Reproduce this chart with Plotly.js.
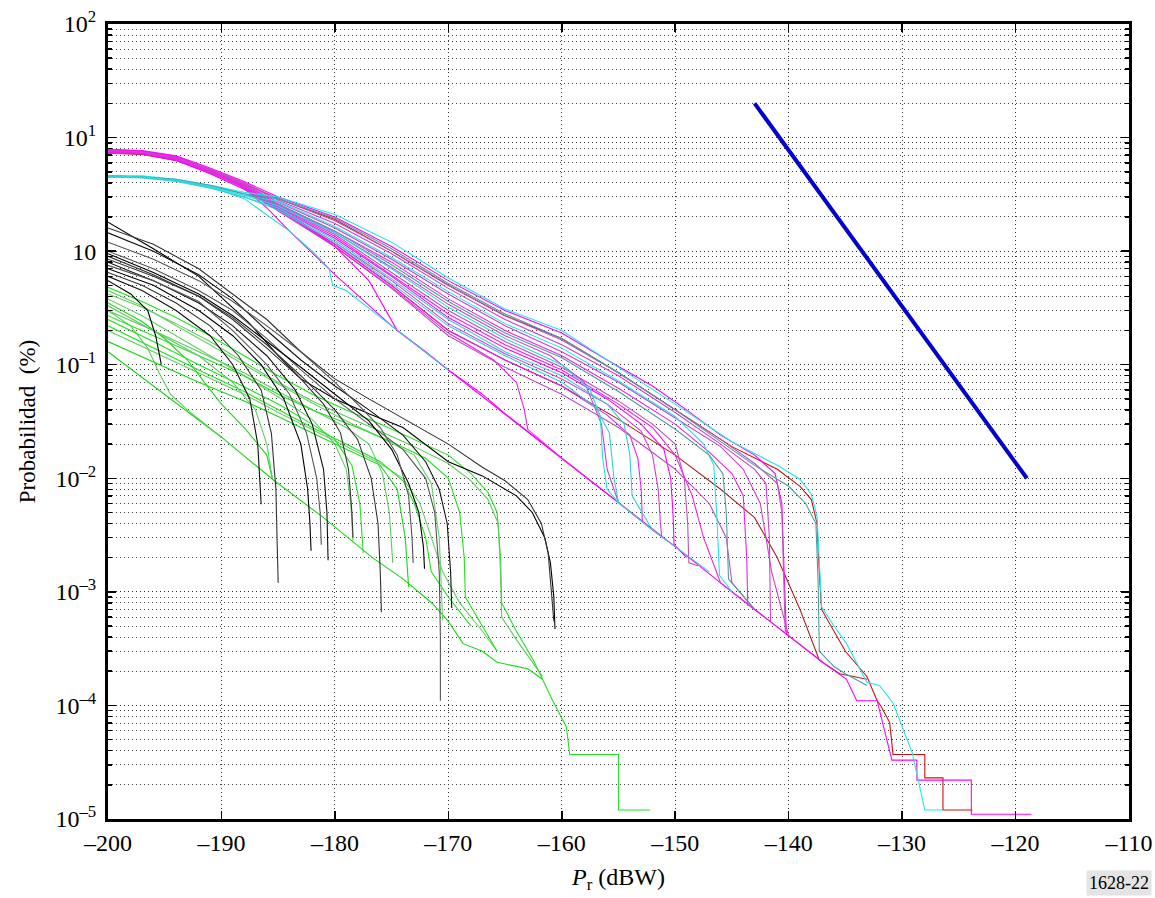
<!DOCTYPE html>
<html>
<head>
<meta charset="utf-8">
<script src="https://cdn.plot.ly/plotly-3.0.1.min.js"></script>
<style>html,body{margin:0;padding:0;background:#fff;}#chart{width:1155px;height:898px;}</style>
</head>
<body>
<div id="chart"></div>
<script>
// ---- axis ticks ----
const xTickVals = [-200,-190,-180,-170,-160,-150,-140,-130,-120,-110];
const xTickText = ['–200','–190','–180','–170','–160','–150','–140','–130','–120','–110'];
const yTickVals = [1e-5,1e-4,1e-3,1e-2,1e-1,1,10,100];
const yTickText = ['10<sup>–5</sup>','10<sup>–4</sup>','10<sup>–3</sup>','10<sup>–2</sup>','10<sup>–1</sup>','10','10<sup>1</sup>','10<sup>2</sup>'];

// ---- blue reference line ----
const blueX = [-143, -119];
const blueY = [20, 0.01];

// ---- magenta curves ----
const magentaX = [
 [-200,-197,-194,-191,-188,-185,-180,-175,-170,-165,-160,-156,-152,-149,-146,-143,-141.2,-140.6,-140.4,-140.2],
 [-200,-197,-194,-191,-188,-185,-180,-175,-170,-165,-160,-155,-150,-146,-143,-142,-141.7,-141.6],
 [-200,-197,-194,-191,-188,-185,-180,-175,-170,-165,-160,-155,-150,-147,-145,-144,-143.7,-143.6],
 [-200,-197,-194,-191,-188,-185,-180,-175,-170,-165,-160,-155,-152,-150,-149.2,-148.9,-148.8,-148],
 [-200,-197,-194,-191,-188,-185,-180,-175,-170,-165,-160,-156,-153,-151,-150.4,-150.2,-150.1,-149],
 [-200,-197,-194,-191,-188,-185,-180,-175,-170,-165,-160,-156,-153,-152,-151.5,-151.3,-151.2],
 [-200,-197,-194,-191,-188,-185,-180,-175,-170,-165,-160,-156,-154,-153.3,-153,-152.9],
 [-200,-197,-194,-191,-188,-185,-180,-175,-170,-165,-160,-155,-150,-147,-145.5,-145,-143,-140,-137],
 [-200,-197,-194,-191,-188,-186,-184,-180,-175,-170,-165,-160,-155,-150,-145,-140,-137,-134.9,-134,-132.2,-131.4,-130.9,-128.7,-128.7,-123.9,-123.9,-118.6],
 [-200,-197,-194,-191,-188,-185,-180,-175,-170,-165,-161,-158,-156.5,-156,-155,-152,-150],
 [-200,-197,-194,-191,-188,-185,-180,-175,-170,-165,-160,-155,-152,-150,-148.5,-147.5,-146,-143],
 [-200,-197,-194,-191,-188,-185,-180,-175,-170,-165,-160,-155,-150,-146,-143,-141,-140.6,-140.4,-140.3],
 [-200,-197,-194,-191,-188,-186,-183,-180,-177,-174.5,-172,-170,-167,-165,-160,-155],
 [-200,-197,-194,-191,-188,-185,-180,-175,-170,-165,-160,-155,-150,-146,-144,-142.5,-141.5,-140],
 [-200,-197,-194,-191,-188,-185,-180,-175,-170,-166,-164,-163.3,-163,-160,-157]
];
const magentaY = [
 [7.9,7.7,6.9,5.4,4.1,3.0,2.0,1.1,0.55,0.3,0.19,0.11,0.065,0.04,0.024,0.016,0.011,0.006,0.0015,4.2e-4],
 [7.8,7.6,6.8,5.3,4.0,2.8,1.75,0.95,0.47,0.25,0.15,0.08,0.038,0.02,0.012,0.009,0.003,5.5e-4],
 [7.7,7.5,6.7,5.2,3.9,2.6,1.5,0.8,0.38,0.2,0.12,0.062,0.03,0.017,0.011,0.007,0.002,7.5e-4],
 [7.6,7.5,6.6,5.1,3.8,2.5,1.4,0.65,0.3,0.16,0.095,0.048,0.03,0.02,0.01,0.004,0.0018,0.0017],
 [7.5,7.4,6.5,5.0,3.8,2.4,1.3,0.6,0.26,0.14,0.085,0.05,0.03,0.018,0.01,0.005,0.0026,0.002],
 [7.4,7.3,6.4,4.9,3.7,2.35,1.2,0.55,0.23,0.125,0.075,0.045,0.026,0.016,0.008,0.004,0.0031],
 [7.7,7.5,6.6,5.0,3.7,2.3,1.15,0.5,0.2,0.11,0.065,0.036,0.024,0.015,0.008,0.0042],
 [7.6,7.4,6.5,4.9,3.6,2.25,1.1,0.47,0.18,0.095,0.055,0.028,0.012,0.006,0.003,0.0012,7e-4,4.1e-4,2.4e-4],
 [7.8,7.6,6.8,5.2,3.6,2.4,1.5,0.62,0.22,0.09,0.037,0.015,0.0061,0.0025,0.001,4.1e-4,2.4e-4,1.7e-4,1.1e-4,1.1e-4,5.2e-5,3.3e-5,3.3e-5,2.2e-5,2.2e-5,1.1e-5,1.1e-5],
 [7.5,7.3,6.4,5.0,3.8,2.55,1.45,0.72,0.34,0.18,0.12,0.07,0.03,0.012,0.0061,0.0035,0.0025],
 [7.3,7.2,6.3,4.9,3.7,2.45,1.35,0.62,0.28,0.15,0.09,0.045,0.028,0.016,0.007,0.003,0.0012,7e-4],
 [7.6,7.4,6.6,5.3,4.0,2.9,1.85,1.0,0.5,0.27,0.165,0.085,0.04,0.022,0.0135,0.009,0.005,0.0012,4.4e-4],
 [7.4,7.2,6.3,4.8,3.5,2.6,1.8,1.1,0.55,0.2,0.13,0.09,0.055,0.037,0.015,0.0061],
 [7.7,7.5,6.7,5.2,3.9,2.7,1.6,0.85,0.42,0.22,0.13,0.07,0.034,0.019,0.012,0.006,0.0015,4.1e-4],
 [7.5,7.3,6.5,5.0,3.6,2.3,1.1,0.48,0.19,0.11,0.07,0.04,0.027,0.015,0.0087]
];

// ---- cyan curves ----
const cyanX = [
 [-200,-197,-194,-191,-188,-185,-180,-175,-170,-165,-160,-155,-150,-145,-141,-139,-138,-137.5,-137.3,-137.1,-136,-134.9,-133.1,-132,-130.8,-129.1,-128,-126.4],
 [-200,-197,-194,-191,-188,-185,-180,-175,-170,-165,-160,-155,-150,-146,-143,-140,-138.5,-137.6,-137.4,-137.3,-136,-135,-133.1],
 [-200,-197,-194,-191,-188,-185,-180,-175,-170,-165,-160,-157.5,-156.6,-156.4,-156,-155],
 [-200,-197,-194,-191,-188,-185,-180,-175,-170,-165,-160,-156,-154.5,-154,-153.8,-152],
 [-200,-197,-194,-191,-188,-185,-180,-175,-170,-165,-160,-155,-150,-147.5,-146.6,-146.3,-146.1,-145],
 [-200,-197,-194,-191,-188,-185,-180,-175,-170,-165,-160,-155,-150,-147,-145.8,-145.5,-145.3,-143],
 [-200,-197,-194,-191,-188,-186,-184,-182,-180.5,-180.2,-179,-175,-170],
 [-200,-197,-194,-191,-188,-185,-180,-175,-170,-165,-160,-157,-155.8,-155.4,-155,-152,-150,-147]
];
const cyanY = [
 [4.6,4.6,4.3,3.8,3.3,3.0,2.1,1.2,0.58,0.31,0.2,0.095,0.045,0.021,0.013,0.0098,0.0072,0.0046,0.002,7.4e-4,5e-4,3.5e-4,1.6e-4,1.5e-4,1.05e-4,3.8e-5,1.2e-5,1.2e-5],
 [4.5,4.5,4.2,3.7,3.2,2.9,1.95,1.05,0.52,0.28,0.17,0.085,0.04,0.021,0.013,0.0085,0.006,0.004,0.0012,3e-4,2.2e-4,1.9e-4,1.5e-4],
 [4.6,4.5,4.2,3.7,3.1,2.5,1.45,0.7,0.32,0.17,0.1,0.06,0.035,0.015,0.008,0.0061],
 [4.6,4.5,4.2,3.6,3.0,2.4,1.25,0.57,0.25,0.13,0.08,0.045,0.03,0.016,0.007,0.0035],
 [4.5,4.5,4.2,3.7,3.1,2.75,1.65,0.88,0.44,0.23,0.14,0.072,0.035,0.02,0.013,0.004,0.0014,0.001],
 [4.6,4.5,4.3,3.8,3.2,2.6,1.5,0.76,0.36,0.19,0.115,0.058,0.027,0.016,0.011,0.005,0.0013,7e-4],
 [4.6,4.5,4.2,3.7,2.9,2.1,1.5,1.0,0.7,0.5,0.45,0.22,0.09],
 [4.5,4.4,4.1,3.6,3.0,2.3,1.2,0.52,0.22,0.12,0.07,0.042,0.025,0.01,0.0061,0.0035,0.0025,0.0015]
];

// ---- red curves ----
const redX = [
 [-200,-197,-194,-191,-188,-185,-180,-175,-170,-165,-160,-155,-150,-145,-141,-139,-138,-137.5,-137.3,-137.1,-135,-133.1,-132.2,-131.9,-131.1,-130.8,-128,-128,-126.4,-126.4,-123.8],
 [-200,-197,-194,-191,-188,-185,-180,-175,-170,-165,-160,-155,-150,-146,-143,-141,-139,-137.3,-135.5,-133.1]
];
const redY = [
 [7.5,7.3,6.5,5.0,3.9,2.9,1.9,1.0,0.5,0.27,0.17,0.085,0.04,0.019,0.012,0.0085,0.0065,0.004,0.0015,7e-4,3e-4,1.8e-4,1.1e-4,1.0e-4,7.1e-5,3.7e-5,3.7e-5,2.3e-5,2.3e-5,1.2e-5,1.2e-5],
 [7.3,7.1,6.3,4.9,3.7,2.3,1.15,0.5,0.2,0.11,0.065,0.033,0.016,0.008,0.0045,0.002,7e-4,2.5e-4,1.9e-4,1.7e-4]
];

// ---- black curves ----
const blackX = [
 [-200,-196,-192,-189.5,-187.5,-185,-183,-180,-177,-174,-170,-167,-165.5,-164,-162.6,-161.5,-161,-160.7,-160.6],
 [-200,-196,-192,-189,-186,-183,-180,-177,-174,-170,-167,-165,-163,-161.8,-161.2,-160.8,-160.7],
 [-200,-196,-192,-189,-186,-183,-180,-177,-174,-172,-170.8,-170.1,-169.8,-169.7],
 [-200,-196,-192,-189,-186,-183,-180,-177,-174,-172,-171.2,-170.8,-170.7,-170.7],
 [-200,-196,-192,-189,-186,-183,-180,-177,-175,-173.5,-172.6,-172.2,-172.1],
 [-200,-196,-192,-189,-186,-183,-180,-178,-176.8,-176.2,-176,-175.9],
 [-200,-196,-192,-189,-186,-183.5,-182,-181,-180.7,-180.6],
 [-200,-196,-192,-189,-186,-184,-182.5,-181.6,-181.3,-181.2],
 [-200,-196,-192,-189,-186.5,-184.5,-183,-182.4,-182.2,-182.1],
 [-200,-197,-194,-191,-188.5,-186.5,-185.6,-185.2,-185.1,-185],
 [-200,-197,-194,-191,-189,-187.5,-186.8,-186.6,-186.5],
 [-200,-196,-192,-189,-186,-183,-180,-178,-176,-174.5,-173.5,-173.2,-173.1],
 [-200,-198,-196.5,-195.8,-195.3],
 [-200,-196,-192,-189,-186,-183,-181,-179.5,-178.8,-178.5,-178.4]
];
const blackY = [
 [1.8,1.05,0.6,0.35,0.23,0.12,0.075,0.05,0.037,0.028,0.014,0.0105,0.0085,0.007,0.005,0.003,0.0018,9e-4,4.7e-4],
 [1.6,1.15,0.7,0.42,0.25,0.13,0.075,0.05,0.034,0.02,0.0125,0.0095,0.0065,0.004,0.0022,8e-4,5.5e-4],
 [1.45,1.0,0.62,0.38,0.2,0.11,0.065,0.04,0.024,0.014,0.008,0.004,0.0015,7.2e-4],
 [1.0,0.7,0.45,0.3,0.17,0.09,0.05,0.03,0.018,0.01,0.005,0.0015,4e-4,1.1e-4],
 [0.95,0.65,0.42,0.27,0.16,0.095,0.055,0.032,0.018,0.009,0.005,0.0025,0.0016],
 [0.85,0.6,0.4,0.26,0.15,0.08,0.04,0.022,0.01,0.004,0.0015,6.6e-4],
 [0.8,0.55,0.35,0.22,0.12,0.06,0.03,0.012,0.005,0.0019],
 [0.75,0.55,0.36,0.2,0.1,0.055,0.025,0.01,0.005,0.0026],
 [0.7,0.5,0.3,0.18,0.1,0.05,0.02,0.008,0.004,0.0023],
 [0.65,0.5,0.35,0.22,0.12,0.06,0.025,0.008,0.003,0.0012],
 [0.6,0.45,0.3,0.18,0.1,0.05,0.02,0.01,0.0059],
 [1.2,0.85,0.55,0.36,0.22,0.13,0.07,0.045,0.028,0.016,0.007,0.003,0.0018],
 [0.55,0.42,0.3,0.18,0.1],
 [0.9,0.62,0.4,0.25,0.14,0.075,0.045,0.025,0.012,0.005,0.003]
];

// ---- green curves ----
const greenX = [
 [-200,-197,-194,-191,-188,-185,-182,-179,-176,-173,-170,-168,-166.5,-165.7,-165.4,-165.3,-164,-162.5,-161.7,-160.8,-159.6,-159.3,-155,-155,-152.2],
 [-200,-197,-194,-191,-188,-185,-182,-179,-176,-173,-170,-168,-166.5,-165.6,-165.4,-165.3,-164,-162.5,-161.7],
 [-200,-195,-190,-185.5,-181,-176.7,-174,-171.4,-170,-168.7,-167,-165.7,-163,-161.7],
 [-200,-196,-192,-188,-185,-182,-179,-176,-174,-172.5,-171.5,-170.5,-169,-167,-165.7],
 [-200,-196,-192,-188,-185,-182,-179,-176,-174,-173,-172,-171.5,-170,-168],
 [-200,-198,-196.5,-195.5,-194.5,-193,-190],
 [-200,-197,-195,-193,-191.5,-190,-188,-186,-185.5],
 [-200,-197,-194,-191,-188,-185,-182,-180,-179,-178.6,-178.4],
 [-200,-196,-192,-188,-185,-182,-180,-178.5,-177.8,-177.5],
 [-200,-196,-192,-188,-185,-182,-179,-177,-175.8,-175.2,-174.9],
 [-200,-196,-192,-188,-185,-182,-179,-176,-174.5,-173.8,-173.5],
 [-200,-197,-194,-191,-188,-185,-182,-179,-176,-173,-171.5,-170.8,-170.5],
 [-200,-196,-192,-188,-185,-182,-178,-175,-172,-170,-169,-168.6,-168.5,-167,-165.7],
 [-200,-196,-192,-189,-187,-186,-185.5]
];
const greenY = [
 [0.48,0.36,0.26,0.18,0.12,0.08,0.055,0.04,0.03,0.022,0.016,0.011,0.0075,0.005,0.002,8e-4,4.5e-4,2.5e-4,1.7e-4,1.1e-4,6.5e-5,3.7e-5,3.7e-5,1.2e-5,1.2e-5],
 [0.42,0.32,0.23,0.16,0.105,0.07,0.048,0.035,0.026,0.019,0.0135,0.0095,0.0065,0.004,0.0015,6e-4,3.8e-4,2.3e-4,1.8e-4],
 [0.13,0.055,0.023,0.0098,0.0045,0.002,0.0013,7.9e-4,5.5e-4,3.5e-4,3e-4,2.4e-4,2.1e-4,1.7e-4],
 [0.2,0.13,0.085,0.055,0.038,0.027,0.019,0.0135,0.01,0.006,0.003,0.0015,8e-4,4.5e-4,3e-4],
 [0.22,0.14,0.09,0.058,0.04,0.028,0.02,0.014,0.0095,0.006,0.003,0.0015,9e-4,5e-4],
 [0.3,0.22,0.14,0.085,0.055,0.04,0.023],
 [0.35,0.24,0.17,0.11,0.07,0.045,0.028,0.016,0.0098],
 [0.38,0.27,0.18,0.12,0.08,0.052,0.033,0.02,0.012,0.006,0.0027],
 [0.25,0.16,0.1,0.064,0.045,0.03,0.022,0.013,0.006,0.0022],
 [0.3,0.2,0.13,0.085,0.058,0.04,0.028,0.02,0.011,0.005,0.0018],
 [0.16,0.105,0.07,0.048,0.035,0.025,0.018,0.013,0.008,0.003,0.0011],
 [0.45,0.33,0.22,0.15,0.1,0.068,0.046,0.032,0.023,0.016,0.009,0.003,5.6e-4],
 [0.27,0.18,0.12,0.08,0.055,0.04,0.028,0.021,0.015,0.01,0.005,0.002,9e-4,5e-4,3e-4],
 [0.33,0.2,0.12,0.07,0.04,0.02,0.0098]
];

// ---- styles ----
const greenColors = ['#22e022','#5ccc5c','#18d818','#66d066'];
const blackColors = ['#000000','#333333','#111111','#555555'];
const redColors = ['#d01010','#b02020'];
const cyanColors = ['#22e5ee','#4f9f9f','#22dde8','#33d0d8'];
const magentaColors = ['#ff00ff','#d040d0','#ee22ee','#c050c0'];

const traces = [];
function addFamily(xs, ys, colors, width) {
  xs.forEach(function (x, i) {
    traces.push({
      type: 'scatter', mode: 'lines', x: x, y: ys[i],
      line: { color: colors[i % colors.length], width: width },
      hoverinfo: 'skip', showlegend: false
    });
  });
}
addFamily(greenX, greenY, greenColors, 1.1);
addFamily(blackX, blackY, blackColors, 1.1);
addFamily(redX, redY, redColors, 1.1);
addFamily(magentaX, magentaY, magentaColors, 1.1);
addFamily(cyanX, cyanY, cyanColors, 1.1);
traces.push({
  type: 'scatter', mode: 'lines', x: blueX, y: blueY,
  line: { color: '#0000d0', width: 4 }, hoverinfo: 'skip', showlegend: false
});

// minor log ticks
const minorVals = [];
for (let e = -5; e < 2; e++) { for (let m = 2; m <= 9; m++) { minorVals.push(m * Math.pow(10, e)); } }

const fontFam = 'Liberation Serif, Times New Roman, serif';
const layout = {
  width: 1155, height: 898,
  margin: { l: 108, r: 26, t: 24, b: 79 },
  paper_bgcolor: '#ffffff', plot_bgcolor: '#ffffff',
  font: { family: fontFam, size: 24, color: '#000' },
  xaxis: {
    range: [-200, -110], tickmode: 'array', tickvals: xTickVals, ticktext: xTickText,
    ticks: 'inside', ticklen: 8, tickwidth: 1.5, tickcolor: '#000',
    showline: true, linewidth: 3, linecolor: '#000', mirror: 'ticks',
    showgrid: true, gridcolor: '#333', griddash: '1px,3px', gridwidth: 1,
    zeroline: false,
    tickfont: { family: fontFam, size: 24, color: '#000' },
    title: { text: '<i>P</i><sub>r</sub> (dBW)', font: { family: fontFam, size: 24, color: '#000' }, standoff: 14 }
  },
  yaxis: {
    type: 'log', range: [-5, 2], tickmode: 'array', tickvals: yTickVals, ticktext: yTickText,
    ticks: 'inside', ticklen: 8, tickwidth: 1.5, tickcolor: '#000',
    showline: true, linewidth: 3, linecolor: '#000', mirror: 'ticks',
    showgrid: true, gridcolor: '#333', griddash: '1px,3px', gridwidth: 1,
    zeroline: false, ticklabelstandoff: 4,
    minor: { tickmode: 'array', tickvals: minorVals, ticks: 'inside', ticklen: 4, tickcolor: '#000',
             showgrid: true, gridcolor: '#444', griddash: '1px,3px', gridwidth: 1 },
    tickfont: { family: fontFam, size: 24, color: '#000' },
    title: { text: 'Probabilidad  (%)', font: { family: fontFam, size: 23, color: '#000' }, standoff: 14 }
  },
  annotations: [{
    text: '1628-22', xref: 'paper', yref: 'paper', x: 0.990, y: -0.081,
    xanchor: 'center', yanchor: 'middle', showarrow: false,
    font: { family: fontFam, size: 18, color: '#000' }, bgcolor: '#e4e4e4', borderpad: 2
  }]
};

Plotly.newPlot('chart', traces, layout, { staticPlot: true, displayModeBar: false });
</script>
</body>
</html>
